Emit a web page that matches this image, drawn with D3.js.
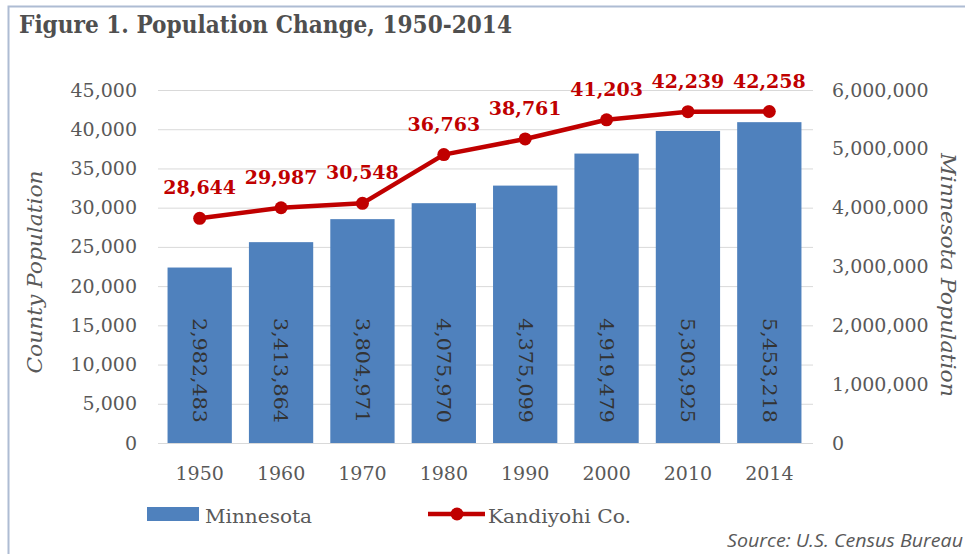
<!DOCTYPE html>
<html>
<head>
<meta charset="utf-8">
<script src="https://cdn.jsdelivr.net/npm/d3@7"></script>
<style>
  html, body { margin: 0; padding: 0; background: #fff; }
  svg { display: block; }
</style>
</head>
<body>
<svg id="chart" width="965" height="554"></svg>
<script>
// ---- data ----
const years = ["1950", "1960", "1970", "1980", "1990", "2000", "2010", "2014"];
const minnesota = [2982483, 3413864, 3804971, 4075970, 4375099, 4919479, 5303925, 5453218];
const kandiyohi = [28644, 29987, 30548, 36763, 38761, 41203, 42239, 42258];
const leftTicks = [0, 5000, 10000, 15000, 20000, 25000, 30000, 35000, 40000, 45000];
const rightTicks = [0, 1000000, 2000000, 3000000, 4000000, 5000000, 6000000];
const titleText = "Figure 1. Population Change, 1950-2014";
const leftTitle = "County Population";
const rightTitle = "Minnesota Population";
const seriesNames = ["Minnesota", "Kandiyohi Co."];
const sourceText = "Source: U.S. Census Bureau";

// ---- layout ----
const svg = d3.select("#chart");
const plotL = 159, plotR = 810, plotT = 90, plotB = 443;
const serif = "'DejaVu Serif', 'Liberation Serif', serif";
const gray = "#595959";
const barColor = "#4F81BD";
const lineColor = "#C00000";

const x = d3.scaleBand().domain(years).range([plotL, plotR]).paddingInner(0.21).paddingOuter(0.105);
const yL = d3.scaleLinear().domain([0, 45000]).range([plotB, plotT]);
const yR = d3.scaleLinear().domain([0, 6000000]).range([plotB, plotT]);
const fmt = d3.format(",");

// border
svg.append("path")
  .attr("d", `M8.5,554 L8.5,6.5 L965,6.5`)
  .attr("fill", "none").attr("stroke", "#aebcd3").attr("stroke-width", 2);

// title
svg.append("text")
  .attr("x", 19).attr("y", 33)
  .attr("font-family", serif).attr("font-weight", "bold").attr("font-size", 24)
  .attr("fill", "#4f4f4f")
  .attr("textLength", 493).attr("lengthAdjust", "spacingAndGlyphs")
  .text(titleText);

// gridlines
const grid = svg.append("g").attr("transform", `translate(${plotL - 1},0)`)
  .call(d3.axisLeft(yL).tickValues(leftTicks).tickSize(-(plotR - plotL + 4)).tickFormat(""));
grid.select(".domain").remove();
grid.selectAll("line").attr("stroke", "#d9d9d9").attr("stroke-width", 1);

// left axis labels
const la = svg.append("g").attr("transform", `translate(${plotL},0)`)
  .call(d3.axisLeft(yL).tickValues(leftTicks).tickSize(0).tickPadding(22).tickFormat(fmt));
la.select(".domain").remove();
la.selectAll("text").attr("font-family", serif).attr("font-size", 19).attr("fill", gray);

// right axis labels
const ra = svg.append("g").attr("transform", `translate(${plotR},0)`)
  .call(d3.axisRight(yR).tickValues(rightTicks).tickSize(0).tickPadding(22).tickFormat(fmt));
ra.select(".domain").remove();
ra.selectAll("text").attr("font-family", serif).attr("font-size", 19).attr("fill", gray);

// x axis labels
const xa = svg.append("g").attr("transform", `translate(0,${plotB})`)
  .call(d3.axisBottom(x).tickSize(0).tickPadding(24));
xa.select(".domain").remove();
xa.selectAll("text").attr("font-family", serif).attr("font-size", 19).attr("fill", gray);

// axis titles
svg.append("text")
  .attr("transform", `translate(42,272) rotate(-90)`)
  .attr("text-anchor", "middle")
  .attr("font-family", serif).attr("font-style", "italic").attr("font-size", 20)
  .attr("fill", gray)
  .attr("textLength", 203).attr("lengthAdjust", "spacingAndGlyphs")
  .text(leftTitle);
svg.append("text")
  .attr("transform", `translate(941,275) rotate(90)`)
  .attr("text-anchor", "middle")
  .attr("font-family", serif).attr("font-style", "italic").attr("font-size", 20)
  .attr("fill", gray)
  .attr("textLength", 244).attr("lengthAdjust", "spacingAndGlyphs")
  .text(rightTitle);

// bars
const bars = years.map((yr, i) => ({ yr, v: minnesota[i] }));
svg.append("g").selectAll("rect").data(bars).join("rect")
  .attr("x", d => x(d.yr))
  .attr("width", x.bandwidth())
  .attr("y", d => yR(d.v))
  .attr("height", d => yR(0) - yR(d.v))
  .attr("fill", barColor);

// bar labels (rotated)
svg.append("g").selectAll("text").data(bars).join("text")
  .attr("transform", d => `translate(${x(d.yr) + x.bandwidth() / 2},${yR(0) - 20}) rotate(90)`)
  .attr("text-anchor", "end")
  .attr("dy", "0.35em")
  .attr("font-family", serif).attr("font-size", 19)
  .attr("fill", "#333333")
  .attr("textLength", 105).attr("lengthAdjust", "spacingAndGlyphs")
  .text(d => fmt(d.v));

// line
const pts = years.map((yr, i) => ({ yr, v: kandiyohi[i] }));
const line = d3.line().x(d => x(d.yr) + x.bandwidth() / 2).y(d => yL(d.v));
svg.append("path").datum(pts)
  .attr("d", line)
  .attr("fill", "none").attr("stroke", lineColor).attr("stroke-width", 4.5)
  .attr("stroke-linejoin", "round");
svg.append("g").selectAll("circle").data(pts).join("circle")
  .attr("cx", d => x(d.yr) + x.bandwidth() / 2)
  .attr("cy", d => yL(d.v))
  .attr("r", 6.5)
  .attr("fill", lineColor);

// line labels
svg.append("g").selectAll("text").data(pts).join("text")
  .attr("x", d => x(d.yr) + x.bandwidth() / 2)
  .attr("y", d => yL(d.v) - 24)
  .attr("text-anchor", "middle")
  .attr("font-family", serif).attr("font-weight", "bold").attr("font-size", 19)
  .attr("fill", lineColor)
  .text(d => fmt(d.v));

// legend
svg.append("rect").attr("x", 147).attr("y", 507).attr("width", 52).attr("height", 14).attr("fill", barColor);
svg.append("text").attr("x", 205).attr("y", 523)
  .attr("font-family", serif).attr("font-size", 19).attr("fill", gray)
  .attr("textLength", 107).attr("lengthAdjust", "spacingAndGlyphs")
  .text(seriesNames[0]);
svg.append("line").attr("x1", 428).attr("x2", 485).attr("y1", 514).attr("y2", 514)
  .attr("stroke", lineColor).attr("stroke-width", 4.5);
svg.append("circle").attr("cx", 457).attr("cy", 514).attr("r", 6.5).attr("fill", lineColor);
svg.append("text").attr("x", 488).attr("y", 523)
  .attr("font-family", serif).attr("font-size", 19).attr("fill", gray)
  .attr("textLength", 143).attr("lengthAdjust", "spacingAndGlyphs")
  .text(seriesNames[1]);

// source
svg.append("text").attr("x", 963).attr("y", 547)
  .attr("text-anchor", "end")
  .attr("font-family", "'Liberation Sans Narrow', 'Open Sans', sans-serif")
  .attr("font-style", "italic").attr("font-size", 18).attr("fill", gray)
  .attr("textLength", 236).attr("lengthAdjust", "spacingAndGlyphs")
  .text(sourceText);
</script>
</body>
</html>
